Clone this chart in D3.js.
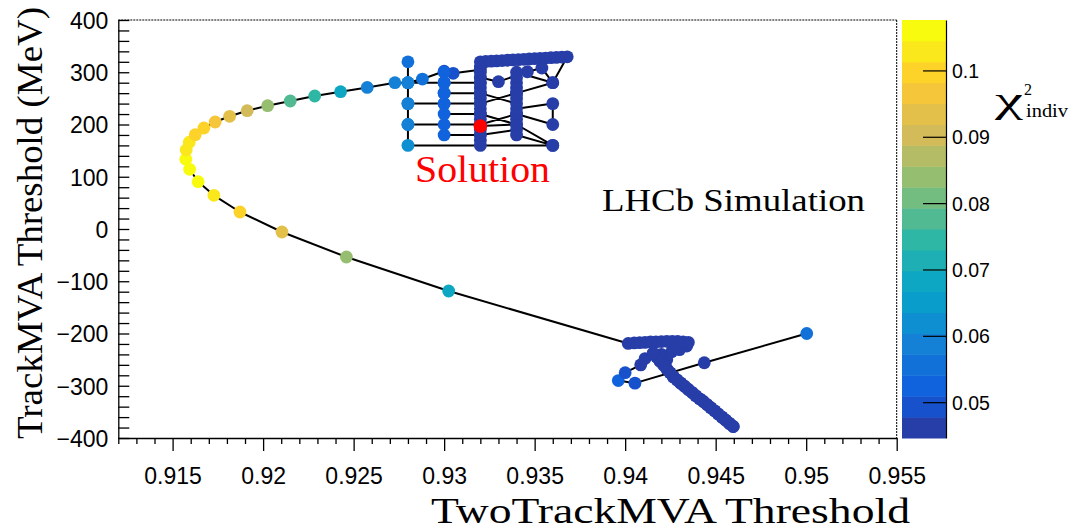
<!DOCTYPE html>
<html><head><meta charset="utf-8">
<script src="https://cdn.jsdelivr.net/npm/d3@7"></script>
<style>body{margin:0;background:#fff}</style>
</head><body>
<svg id="c" width="1074" height="531"></svg>
<script>
// ---------------- data ----------------
const xTicks = [0.915,0.92,0.925,0.93,0.935,0.94,0.945,0.95,0.955];
const xTickLabels = ["0.915","0.92","0.925","0.93","0.935","0.94","0.945","0.95","0.955"];
const yTicks = [-400,-300,-200,-100,0,100,200,300,400];
const yTickLabels = ["\u2212400","\u2212300","\u2212200","\u2212100","0","100","200","300","400"];
const zTicks = [0.05,0.06,0.07,0.08,0.09,0.1];
const zTickLabels = ["0.05","0.06","0.07","0.08","0.09","0.1"];
const xDomain = [0.912,0.955], yDomain = [-400,400], zDomain = [0.0446,0.1076];

// trajectory pieces: [TwoTrackMVA, TrackMVA (MeV), chi2_indiv]
const clusterIn = [
 [0.95003,-200,0.055],[0.94437,-256,0.046],[0.94054,-295,0.049],[0.93962,-290,0.053],
 [0.94000,-275,0.048],[0.94086,-260,0.046],[0.94110,-248,0.046],[0.94200,-240,0.046],[0.94230,-250,0.046]
];
const clusterDiag = [
 [0.94155,-238,0.046],[0.94174,-245,0.046],[0.94193,-253,0.046],[0.94212,-260,0.046],[0.94230,-268,0.046],
 [0.94248,-275,0.046],[0.94266,-283,0.046],[0.94287,-289,0.046],[0.94307,-295,0.046],[0.94328,-301,0.046],
 [0.94349,-307,0.046],[0.94370,-313,0.046],[0.94390,-319,0.046],[0.94411,-325,0.046],[0.94432,-330,0.046],
 [0.94452,-336,0.046],[0.94473,-342,0.046],[0.94494,-348,0.046],[0.94514,-354,0.046],[0.94535,-360,0.046],
 [0.94556,-366,0.046],[0.94576,-372,0.046],[0.94597,-378,0.046]
];
const clusterTop = [
 [0.94257,-235,0.046],[0.94300,-231,0.046],[0.94340,-224,0.046],[0.94349,-217,0.046],[0.94320,-216,0.046],
 [0.94290,-215,0.046],[0.94260,-215,0.046],[0.94230,-215,0.046],[0.94200,-215.5,0.046],[0.94170,-216,0.046],
 [0.94140,-216,0.046],[0.94110,-217,0.046],[0.94080,-217.5,0.046],[0.94050,-218,0.046],[0.94017,-219,0.046]
];
const curve = [
 [0.93025,-118.7,0.068],[0.92460,-53.6,0.083],[0.92104,-5.7,0.094],[0.91872,32.5,0.101],[0.91728,64.5,0.104],
 [0.91641,90.5,0.106],[0.91594,114.3,0.107],[0.91573,133.4,0.106],[0.91575,151.2,0.104],[0.91592,166,0.103],
 [0.91625,180.5,0.100],[0.91673,193.3,0.100],[0.91735,204.8,0.097],[0.91815,215.7,0.0935],[0.91912,226.4,0.0905],
 [0.92025,236,0.085],[0.92150,245,0.079],[0.92285,254.5,0.0735],[0.92428,262.8,0.0685],[0.92575,271,0.060],
 [0.92728,280,0.058]
];
const grid = [
 [0.928,280,0.058],[0.9288,287,0.055],[0.930,302,0.050],[0.9305,298,0.049],[0.932,305,0.046],[0.932,320,0.046],
 [0.9323,320.6,0.045],[0.9326,321.2,0.045],[0.9329,321.8,0.045],[0.9332,322.4,0.045],[0.9335,323,0.045],
 [0.9338,323.6,0.045],[0.9341,324.2,0.045],[0.9344,324.8,0.045],[0.9347,325.4,0.045],[0.9350,326,0.045],
 [0.9353,326.6,0.045],[0.9356,327.2,0.045],[0.9359,327.8,0.045],[0.9362,328.4,0.045],[0.9365,329,0.045],[0.9368,329.6,0.045],
 [0.936,280,0.046],[0.9354,308,0.046],[0.9346,301,0.046],[0.933,282,0.046],[0.932,290,0.046],
 [0.932,310,0.046],[0.932,300,0.046],[0.932,290,0.046],[0.932,280,0.046],[0.932,270,0.046],[0.932,260,0.046],
 [0.932,250,0.046],[0.932,240,0.046],[0.932,230,0.046],[0.932,220,0.046],[0.932,210,0.046],[0.932,200,0.046],
 [0.932,190,0.046],[0.932,180,0.046],[0.932,170,0.046],[0.932,160,0.046],
 [0.936,160,0.046],[0.928,160,0.061],[0.928,200,0.060],[0.928,240,0.060],[0.928,280,0.058],[0.928,320,0.0555],[0.928,240,0.060],
 [0.930,240,0.052],[0.932,240,0.046],[0.934,260,0.046],[0.934,270,0.046],[0.934,280,0.046],[0.934,290,0.046],[0.934,300,0.046],
 [0.936,280,0.046],[0.934,260,0.046],[0.934,250,0.046],[0.934,240,0.046],[0.932,260,0.046],[0.930,260,0.052],[0.930,280,0.052],
 [0.928,280,0.058],[0.930,280,0.052],[0.932,280,0.046],[0.930,280,0.052],[0.930,300,0.052],
 [0.930,280,0.052],[0.930,260,0.052],[0.930,240,0.052],[0.930,220,0.052],[0.932,220,0.046],[0.934,200,0.046],[0.934,210,0.046],
 [0.934,220,0.046],[0.934,230,0.046],[0.936,240,0.046],[0.936,200,0.046],[0.934,220,0.046],[0.932,200,0.046],[0.928,200,0.060],
 [0.930,200,0.052],[0.930,180,0.052],[0.932,180,0.046],[0.934,190,0.046],[0.934,180,0.046],[0.936,160,0.046],[0.934,200,0.046],
 [0.932,197,0.046]
];
const solution = [0.932,197];

// ROOT kBird palette stops
const birdStops = [0,0.125,0.25,0.375,0.5,0.625,0.75,0.875,1];
const birdR = [0.2082,0.0592,0.0780,0.0232,0.1802,0.5301,0.8186,0.9956,0.9764];
const birdG = [0.1664,0.3599,0.5041,0.6419,0.7178,0.7492,0.7328,0.7862,0.9832];
const birdB = [0.5293,0.8684,0.8385,0.7914,0.6425,0.4662,0.3499,0.1968,0.0539];
const nBands = 20;

// ---------------- drawing ----------------
const svg = d3.select("#c");
const L=118.3, R=896.7, T=20, B=438;
const x = d3.scaleLinear().domain(xDomain).range([L,R]);
const y = d3.scaleLinear().domain(yDomain).range([B,T]);
const z = d3.scaleLinear().domain(zDomain).range([B,T]);
const bird = d3.scaleLinear().domain(birdStops)
  .range(birdStops.map((s,i)=>d3.rgb(birdR[i]*255,birdG[i]*255,birdB[i]*255).toString()))
  .interpolate(d3.interpolateRgb);
const bandColor = i => bird(Math.floor((i+0.99)*255/nBands)/254);
const zBand = v => Math.max(0,Math.min(nBands-1,Math.floor((v-zDomain[0])/(zDomain[1]-zDomain[0])*nBands)));
const zColor = v => bandColor(zBand(v));

const sansF = "'Liberation Sans', Arial, Helvetica, sans-serif";
const serifF = "'Liberation Serif', 'Times New Roman', serif";

// frame top/right dotted
svg.append("line").attr("x1",L).attr("x2",R).attr("y1",T).attr("y2",T)
  .attr("stroke","#000").attr("stroke-width",1).attr("stroke-dasharray","2,1");
svg.append("line").attr("x1",R).attr("x2",R).attr("y1",T).attr("y2",B)
  .attr("stroke","#000").attr("stroke-width",1).attr("stroke-dasharray","2,1");

// X axis
const xMinor = d3.range(912,956).map(v=>v/1000).filter(v=>!xTicks.some(t=>Math.abs(t-v)<1e-9));
const gx = svg.append("g").attr("transform",`translate(0,${B})`);
gx.append("g").call(d3.axisBottom(x).tickValues(xMinor).tickSize(6).tickFormat(""))
  .call(g=>g.select(".domain").remove());
gx.append("g").call(d3.axisBottom(x).tickValues(xTicks).tickSize(13).tickSizeOuter(0)
  .tickFormat((d,i)=>xTickLabels[i]))
  .call(g=>g.selectAll("text").attr("y",46).attr("dy",0).style("font-family",sansF).style("font-size","23px").attr("fill","#000"));
gx.selectAll("line,path").attr("stroke","#000").attr("stroke-width",1.3);

// Y axis (ticks inward)
const yMinor = d3.range(-400,401,20).filter(v=>v%100!==0);
const gy = svg.append("g").attr("transform",`translate(${L},0)`);
gy.append("g").call(d3.axisLeft(y).tickValues(yMinor).tickSize(-11).tickFormat(""))
  .call(g=>g.select(".domain").remove());
gy.append("g").call(d3.axisLeft(y).tickValues(yTicks).tickSize(-11).tickSizeOuter(0)
  .tickFormat((d,i)=>yTickLabels[i]))
  .call(g=>g.selectAll("text").attr("x",-10).attr("text-anchor","end").attr("dy","0.36em")
    .style("font-family",sansF).style("font-size","23px").attr("fill","#000"));
gy.selectAll("line,path").attr("stroke","#000").attr("stroke-width",1.3);

// trajectory
const traj = clusterIn.concat(clusterDiag, clusterDiag.slice().reverse(), clusterTop, curve, grid);
svg.append("path").datum(traj)
  .attr("d", d3.line().x(d=>x(d[0])).y(d=>y(d[1])))
  .attr("fill","none").attr("stroke","#000").attr("stroke-width",2).attr("stroke-linejoin","round");
svg.append("g").selectAll("circle").data(traj).join("circle")
  .attr("cx",d=>x(d[0])).attr("cy",d=>y(d[1])).attr("r",6.4)
  .attr("fill",d=>zColor(d[2]));
svg.append("circle").attr("cx",x(solution[0])).attr("cy",y(solution[1])).attr("r",6.8).attr("fill","#ff0000");

// colour bar
const cbL=902, cbR=946;
const bands = d3.range(nBands);
const bandH = (B-T)/nBands;
svg.append("g").selectAll("rect").data(bands).join("rect")
  .attr("x",cbL).attr("width",cbR-cbL)
  .attr("y",i=>z(zDomain[0]+(i+1)*(zDomain[1]-zDomain[0])/nBands))
  .attr("height",bandH+0.5)
  .attr("fill",i=>bandColor(i));
const gz = svg.append("g").attr("transform",`translate(${cbR},0)`);
gz.call(d3.axisRight(z).tickValues(zTicks).tickSize(-23).tickSizeOuter(0).tickFormat((d,i)=>zTickLabels[i]))
  .call(g=>g.selectAll("text").attr("x",6).attr("dy","0.36em").style("font-family",sansF).style("font-size","19.5px").attr("fill","#000"));
gz.selectAll("line,path").attr("stroke","#000").attr("stroke-width",1.2);

// colour bar title
svg.append("text").attr("x",995).attr("y",112).text("\u03C7")
  .style("font-family",serifF).style("font-size","36px").attr("fill","#000")
  .attr("textLength",28).attr("lengthAdjust","spacingAndGlyphs");
svg.append("text").attr("x",1024).attr("y",95).text("2").style("font-family",serifF).style("font-size","16px");
svg.append("text").attr("x",1026).attr("y",117).text("indiv").style("font-family",serifF).style("font-size","18px")
  .attr("textLength",42).attr("lengthAdjust","spacingAndGlyphs");

// axis titles
svg.append("text").attr("x",431).attr("y",523).text("TwoTrackMVA Threshold")
  .style("font-family",serifF).style("font-size","36px").attr("fill","#000")
  .attr("textLength",479).attr("lengthAdjust","spacingAndGlyphs");
svg.append("text").attr("transform","translate(42,439) rotate(-90)").text("TrackMVA Threshold (MeV)")
  .style("font-family",serifF).style("font-size","36px").attr("fill","#000")
  .attr("textLength",432).attr("lengthAdjust","spacingAndGlyphs");

// annotations
svg.append("text").attr("x",415).attr("y",182).text("Solution")
  .style("font-family",serifF).style("font-size","37px").attr("fill","#ff0000")
  .attr("textLength",135).attr("lengthAdjust","spacingAndGlyphs");
svg.append("text").attr("x",602).attr("y",211).text("LHCb Simulation")
  .style("font-family",serifF).style("font-size","31px").attr("fill","#000")
  .attr("textLength",263).attr("lengthAdjust","spacingAndGlyphs");
</script>
</body></html>
